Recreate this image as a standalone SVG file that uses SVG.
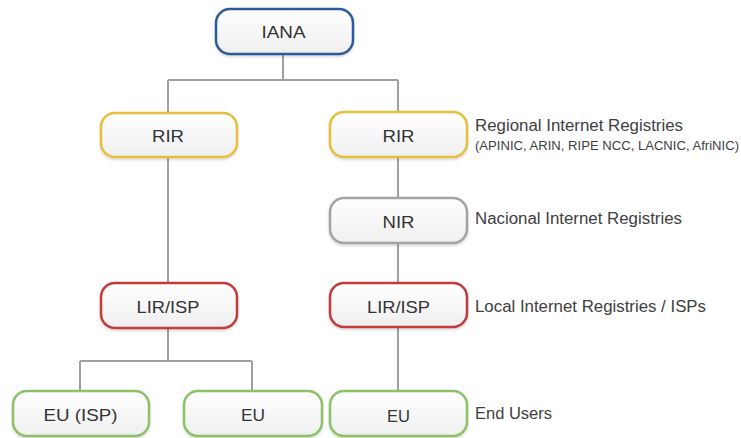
<svg xmlns="http://www.w3.org/2000/svg" width="741" height="438" viewBox="0 0 741 438">
<defs>
<linearGradient id="fillg" x1="0" y1="0" x2="0" y2="1">
<stop offset="0" stop-color="#ffffff"/>
<stop offset="1" stop-color="#efefef"/>
</linearGradient>
<filter id="sh" x="-10%" y="-10%" width="120%" height="130%">
<feDropShadow dx="0" dy="1.5" stdDeviation="1.2" flood-color="#000" flood-opacity="0.18"/>
</filter>
</defs>
<style>
.box{fill:url(#fillg);stroke-width:2.5;filter:url(#sh)}
.blue{stroke:#2d5c9b}
.yellow{stroke:#e5bf3c}
.gray{stroke:#a3a3a3}
.red{stroke:#c23a3e}
.green{stroke:#8cc168}
.lbl{font-family:"Liberation Sans",Arial,sans-serif;font-size:17px;fill:#333;text-anchor:middle}
.side{font-family:"Liberation Sans",Arial,sans-serif;font-size:16px;fill:#404040}
.sub{font-family:"Liberation Sans",Arial,sans-serif;font-size:12.5px;fill:#404040}
.conn{fill:none;stroke:#a0a0a0;stroke-width:2}
</style>
<rect width="741" height="438" fill="#ffffff"/>
<g id="connectors">
<path class="conn" d="M283 54 V80 M168 80 H398 M168 80 V113 M398 80 V112"/>
<path class="conn" d="M168 157 V283"/>
<path class="conn" d="M398 157 V198 M398 243 V283 M398 327 V391"/>
<path class="conn" d="M168 328 V361 M80 361 H252 M80 361 V391 M252 361 V391"/>
</g>
<g id="iana">
<rect class="box blue" x="216" y="9" width="137" height="45" rx="14"/>
<text class="lbl" x="283.5" y="38" textLength="44" lengthAdjust="spacingAndGlyphs">IANA</text>
</g>
<g id="rir-left">
<rect class="box yellow" x="101" y="113" width="136" height="44" rx="14"/>
<text class="lbl" x="168" y="142" textLength="32" lengthAdjust="spacingAndGlyphs">RIR</text>
</g>
<g id="rir-right">
<rect class="box yellow" x="330" y="112" width="137" height="45" rx="14"/>
<text class="lbl" x="398.5" y="142" textLength="32" lengthAdjust="spacingAndGlyphs">RIR</text>
</g>
<g id="nir">
<rect class="box gray" x="330" y="198" width="137" height="45" rx="14"/>
<text class="lbl" x="398.5" y="228" textLength="32" lengthAdjust="spacingAndGlyphs">NIR</text>
</g>
<g id="lir-left">
<rect class="box red" x="101" y="283" width="136" height="45" rx="14"/>
<text class="lbl" x="168" y="312.5" textLength="63" lengthAdjust="spacingAndGlyphs">LIR/ISP</text>
</g>
<g id="lir-right">
<rect class="box red" x="330" y="283" width="137" height="44" rx="14"/>
<text class="lbl" x="398.5" y="312.5" textLength="63" lengthAdjust="spacingAndGlyphs">LIR/ISP</text>
</g>
<g id="eu-isp">
<rect class="box green" x="13" y="391" width="136" height="45" rx="14"/>
<text class="lbl" x="80.5" y="421" textLength="74" lengthAdjust="spacingAndGlyphs">EU (ISP)</text>
</g>
<g id="eu-mid">
<rect class="box green" x="184" y="391" width="138" height="45" rx="14"/>
<text class="lbl" x="253" y="421" textLength="24" lengthAdjust="spacingAndGlyphs">EU</text>
</g>
<g id="eu-right">
<rect class="box green" x="330" y="391" width="137" height="45" rx="14"/>
<text class="lbl" x="398.5" y="421.5" textLength="23" lengthAdjust="spacingAndGlyphs">EU</text>
</g>
<g id="labels">
<text class="side" x="475" y="130.5" textLength="208" lengthAdjust="spacingAndGlyphs">Regional Internet Registries</text>
<text class="sub" x="475" y="149.5" textLength="264" lengthAdjust="spacingAndGlyphs">(APINIC, ARIN, RIPE NCC, LACNIC, AfriNIC)</text>
<text class="side" x="475" y="224" textLength="207" lengthAdjust="spacingAndGlyphs">Nacional Internet Registries</text>
<text class="side" x="475" y="311.5" textLength="231" lengthAdjust="spacingAndGlyphs">Local Internet Registries / ISPs</text>
<text class="side" x="475" y="418.5" textLength="77" lengthAdjust="spacingAndGlyphs">End Users</text>
</g>
</svg>
